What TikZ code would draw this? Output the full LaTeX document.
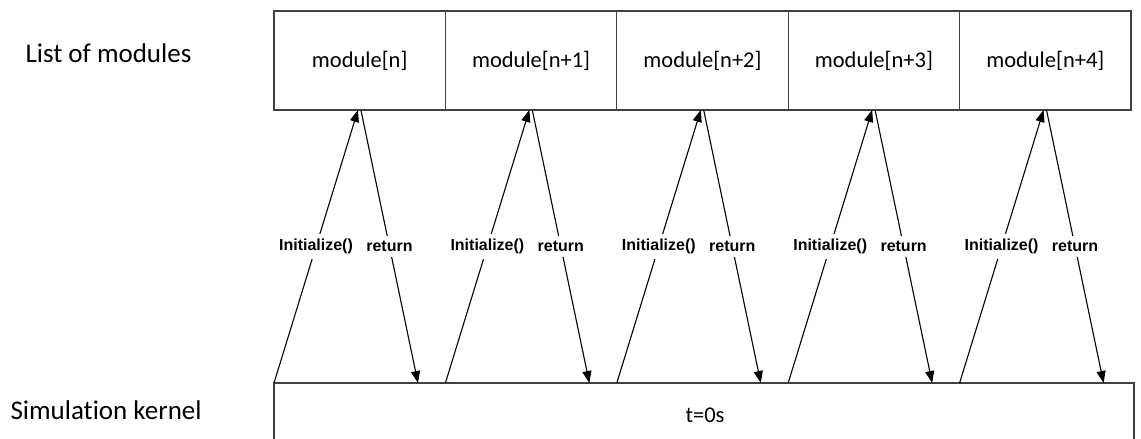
\documentclass[tikz,border=0pt]{standalone}
\usepackage{fontspec}
\setmainfont[Ligatures=NoCommon]{Carlito}
\newfontfamily\callfont{Liberation Sans}
\usetikzlibrary{positioning,arrows.meta,calc}
\tikzset{
  modbox/.style={draw=black!75, line width=1.3pt, minimum width=171.4pt, minimum height=99pt,
    inner sep=0pt, outer sep=0pt, font=\fontsize{22.5}{25}\selectfont},
  callarrow/.style={line width=1.1pt, -{Triangle[length=12pt,width=9pt]}},
  calllabel/.style={fill=white, inner xsep=1.5pt, inner ysep=5.5pt, font=\callfont\bfseries\fontsize{16}{18}\selectfont}
}
\begin{document}
\begin{tikzpicture}[x=1pt,y=1pt]
\clip (0,0) rectangle (1141,439);
\useasboundingbox (0,0) rectangle (1141,439);
% side labels
\node[anchor=west, font=\fontsize{27}{30}\selectfont] (listlbl) at (22,386) {List of modules};
\node[anchor=west, font=\fontsize{27}{30}\selectfont] (kernlbl) at (7,29) {Simulation kernel};
% list of modules
\node[modbox, anchor=north west] (m0) at (274,428) {module[n]};
\node[modbox, right=0pt of m0] (m1) {module[n+1]};
\node[modbox, right=0pt of m1] (m2) {module[n+2]};
\node[modbox, right=0pt of m2] (m3) {module[n+3]};
\node[modbox, right=0pt of m3] (m4) {module[n+4]};
% simulation kernel
\node[draw=black!75, line width=1.3pt, minimum width=860pt, minimum height=70pt,
  inner sep=0pt, outer sep=0pt, anchor=north west] (kernel) at (274,56) {};
\node[font=\fontsize{22.5}{25}\selectfont] (tzero) at (705,24) {t=0s};
% calls and returns
\foreach \i in {0,...,4}{
  \coordinate (s\i) at (m\i.south west |- kernel.north);
  \coordinate (e\i) at ($(m\i.south west)!0.84!(m\i.south east)$);
  \draw[callarrow] (s\i) -- node[calllabel] {Initialize()} ($(m\i.south west)!0.49!(m\i.south east)$);
  \draw[callarrow] ($(m\i.south west)!0.507!(m\i.south east)$) -- node[calllabel] {return} (e\i |- kernel.north);
}
\end{tikzpicture}
\end{document}
